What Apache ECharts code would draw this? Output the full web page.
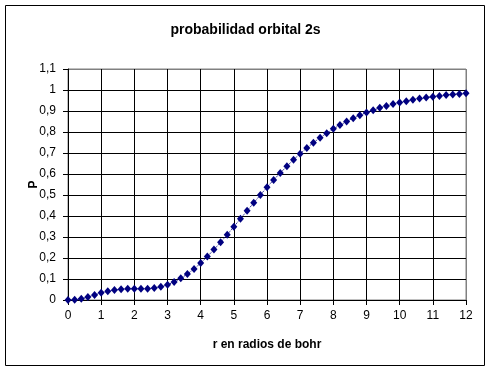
<!DOCTYPE html>
<html>
<head>
<meta charset="utf-8">
<script src="https://cdn.jsdelivr.net/npm/echarts@6/dist/echarts.min.js"></script>
<style>
  html, body { margin: 0; padding: 0; background: #fff; }
  #chart { width: 491px; height: 371px; }
</style>
</head>
<body>
<div id="chart"></div>
<script>
// r (radios de bohr), paso 0,2
const rValues = [0, 0.2, 0.4, 0.6, 0.8, 1, 1.2, 1.4, 1.6, 1.8, 2, 2.2, 2.4, 2.6, 2.8, 3, 3.2, 3.4, 3.6, 3.8,
  4, 4.2, 4.4, 4.6, 4.8, 5, 5.2, 5.4, 5.6, 5.8, 6, 6.2, 6.4, 6.6, 6.8, 7, 7.2, 7.4, 7.6, 7.8,
  8, 8.2, 8.4, 8.6, 8.8, 9, 9.2, 9.4, 9.6, 9.8, 10, 10.2, 10.4, 10.6, 10.8, 11, 11.2, 11.4, 11.6, 11.8, 12]
// probabilidad acumulada P
const pValues = [0, 0.001, 0.006, 0.014, 0.024, 0.034, 0.042, 0.048, 0.051, 0.053, 0.053, 0.053, 0.054, 0.057, 0.063,
  0.073, 0.086, 0.103, 0.124, 0.148, 0.176, 0.207, 0.240, 0.275, 0.311, 0.349, 0.387, 0.425, 0.463, 0.500,
  0.537, 0.572, 0.605, 0.637, 0.668, 0.697, 0.724, 0.749, 0.773, 0.794, 0.815, 0.833, 0.850, 0.866, 0.880,
  0.893, 0.904, 0.915, 0.924, 0.933, 0.941, 0.947, 0.954, 0.959, 0.964, 0.968, 0.972, 0.976, 0.979, 0.981, 0.984]
const xTicks = [0, 1, 2, 3, 4, 5, 6, 7, 8, 9, 10, 11, 12]
const yTicks = [0, 0.1, 0.2, 0.3, 0.4, 0.5, 0.6, 0.7, 0.8, 0.9, 1, 1.1]

const font = 'Liberation Sans, Arial, sans-serif'
const chart = echarts.init(document.getElementById('chart'))

const option = {
  backgroundColor: '#fff',
  animation: false,
  title: {
    text: 'probabilidad orbital 2s',
    left: 'center',
    top: 18,
    textStyle: { fontFamily: font, fontSize: 14, fontWeight: 'bold', color: '#000' }
  },
  graphic: [{
    type: 'rect',
    shape: { x: 5.5, y: 5.5, width: 479, height: 360 },
    style: { fill: 'none', stroke: '#000', lineWidth: 1 }
  }],
  grid: {
    left: 68, right: 25, top: 69, bottom: 71,
    show: true, borderColor: '#808080', borderWidth: 1, backgroundColor: '#fff'
  },
  xAxis: {
    type: 'value',
    min: xTicks[0],
    max: xTicks[xTicks.length - 1],
    interval: 1,
    name: 'r en radios de bohr',
    nameLocation: 'middle',
    nameGap: 39,
    nameMoveOverlap: false,
    nameTextStyle: { fontFamily: font, fontSize: 12, fontWeight: 'bold', color: '#000' },
    axisLine: { lineStyle: { color: '#000', width: 1 } },
    axisTick: { show: true, length: 5, lineStyle: { color: '#000' } },
    axisLabel: { fontFamily: font, fontSize: 12, color: '#000', margin: 10 },
    splitLine: {
      show: true,
      lineStyle: { color: xTicks.map((t, i) => i === xTicks.length - 1 ? '#808080' : '#000'), width: 1 }
    }
  },
  yAxis: {
    type: 'value',
    min: yTicks[0],
    max: yTicks[yTicks.length - 1],
    interval: 0.1,
    name: 'P',
    nameLocation: 'middle',
    nameGap: 28,
    nameMoveOverlap: false,
    nameRotate: 90,
    nameTextStyle: { fontFamily: font, fontSize: 12, fontWeight: 'bold', color: '#000' },
    axisLine: { show: true, lineStyle: { color: '#000', width: 1 } },
    axisTick: { show: true, length: 5, lineStyle: { color: '#000' } },
    axisLabel: {
      fontFamily: font, fontSize: 12, color: '#000', margin: 12,
      formatter: v => String(Math.round(v * 10) / 10).replace('.', ',')
    },
    splitLine: {
      show: true,
      lineStyle: { color: yTicks.map((t, i) => i === yTicks.length - 1 ? '#808080' : '#000'), width: 1 }
    }
  },
  series: [{
    type: 'line',
    data: rValues.map((r, i) => [r, pValues[i]]),
    symbol: 'diamond',
    symbolSize: [7, 8],
    itemStyle: { color: '#000080' },
    lineStyle: { color: '#000080', width: 1, type: 'dotted' },
    z: 5
  }]
}

chart.setOption(option)
</script>
</body>
</html>
